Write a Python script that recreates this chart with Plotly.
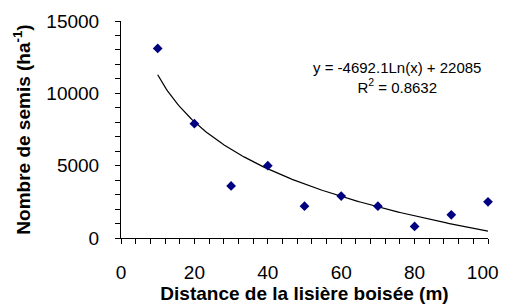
import numpy as np
import plotly.graph_objects as go

# Data
distance_m = [10, 20, 30, 40, 50, 60, 70, 80, 90, 100]
semis_ha = [13100, 7900, 3600, 5000, 2200, 2900, 2200, 800, 1600, 2500]

# Logarithmic trendline coefficients (as shown on the chart)
trend_slope = -4692.1
trend_intercept = 22085
r_squared = 0.8632

x_tick_vals = [0, 20, 40, 60, 80, 100]
x_tick_text = ["0", "20", "40", "60", "80", "100\u2007"]
y_tick_vals = [0, 5000, 10000, 15000]
y_tick_text = ["0", "5000", "10000", "15000"]

xt = np.linspace(min(distance_m), max(distance_m), 200)
yt = trend_slope * np.log(xt) + trend_intercept

FONT = "Arial, 'Liberation Sans', sans-serif"

fig = go.Figure()
fig.add_trace(go.Scatter(
    x=xt, y=yt, mode="lines",
    line=dict(color="black", width=1.2),
    hoverinfo="skip", showlegend=False,
))
fig.add_trace(go.Scatter(
    x=distance_m, y=semis_ha, mode="markers",
    marker=dict(symbol="diamond", size=7.5, color="#000080"),
    cliponaxis=False, showlegend=False,
))

fig.update_layout(
    width=509, height=304,
    margin=dict(l=121, r=21, t=21, b=66, autoexpand=False),
    paper_bgcolor="white", plot_bgcolor="white",
    font=dict(family=FONT, color="black"),
    showlegend=False,
)
fig.update_xaxes(
    range=[0, 100], tickvals=x_tick_vals, ticktext=x_tick_text,
    showgrid=False, zeroline=False,
    showline=True, linecolor="black", linewidth=1,
    ticks="outside", ticklen=5, tickcolor="black", tickwidth=1,
    minor=dict(dtick=4, tick0=0, ticks="outside", ticklen=5, tickcolor="black", showgrid=False),
    tickfont=dict(size=19, family=FONT),
    ticklabelstandoff=12,
    ticklabeloverflow="allow",
    title=dict(text="<b>Distance de la lisière boisée (m)</b>", font=dict(size=19, family=FONT), standoff=0),
    automargin=False,
)
fig.update_yaxes(
    range=[0, 15000], tickvals=y_tick_vals, ticktext=y_tick_text,
    showgrid=False, zeroline=False,
    showline=True, linecolor="black", linewidth=1,
    ticks="outside", ticklen=5, tickcolor="black", tickwidth=1,
    minor=dict(dtick=1000, tick0=0, ticks="outside", ticklen=5, tickcolor="black", showgrid=False),
    tickfont=dict(size=19, family=FONT),
    ticklabelstandoff=12,
    ticklabeloverflow="allow",
    title=dict(text="<b>Nombre de semis (ha<sup>-1</sup>)</b>", font=dict(size=19, family=FONT), standoff=10),
    automargin=False,
)

fig.add_annotation(
    x=0.753, y=0.74, xref="paper", yref="paper",
    xanchor="center", yanchor="middle",
    text=f"y = {trend_slope}Ln(x) + {trend_intercept}<br>R<sup>2</sup> = {r_squared}",
    showarrow=False, align="center", font=dict(size=15, family=FONT, color="black"),
)

fig.write_html(
    "out.html",
    config={"displayModeBar": False},
    post_script="document.body.style.margin='0';document.body.style.padding='0';",
)
